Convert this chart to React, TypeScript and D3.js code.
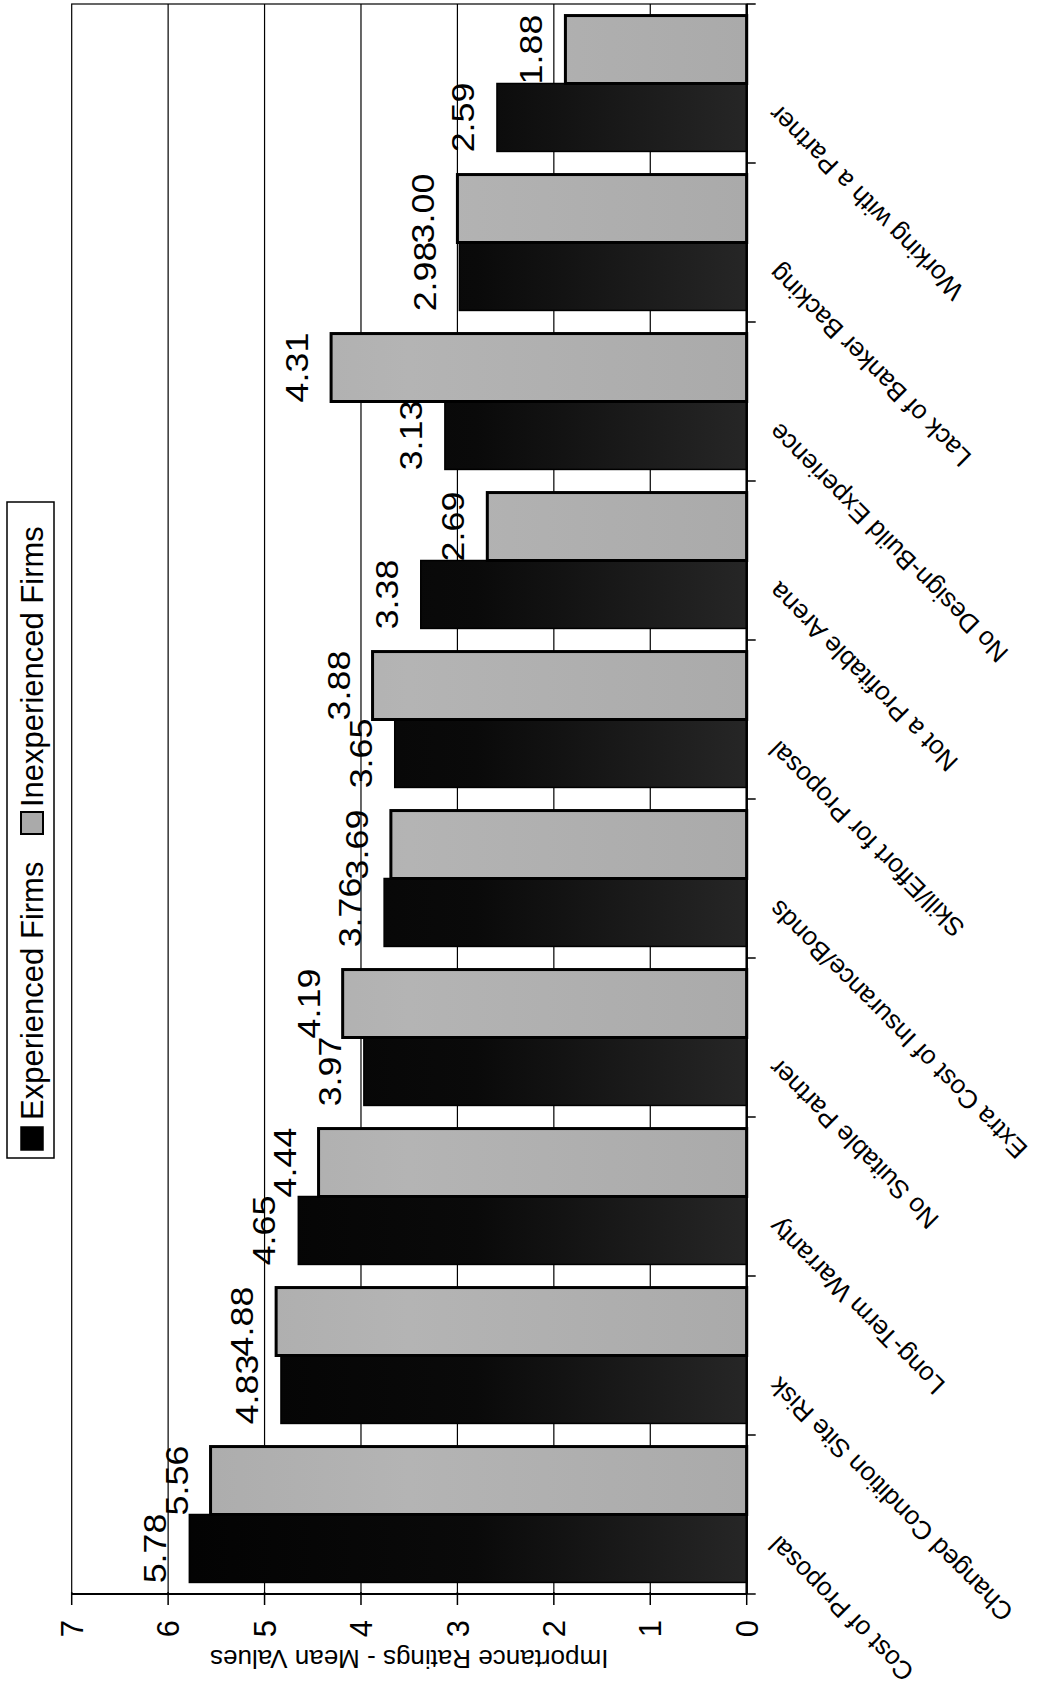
import * as d3 from 'd3';

const categories = [
  'Cost of Proposal',
  'Changed Condition Site Risk',
  'Long-Term Warranty',
  'No Suitable Partner',
  'Extra Cost of Insurance/Bonds',
  'Skill/Effort for Proposal',
  'Not a Profitable Arena',
  'No Design-Build Experience',
  'Lack of Banker Backing',
  'Working with a Partner',
];
const experienced = [5.78, 4.83, 4.65, 3.97, 3.76, 3.65, 3.38, 3.13, 2.98, 2.59];
const inexperienced = [5.56, 4.88, 4.44, 4.19, 3.69, 3.88, 2.69, 4.31, 3.0, 1.88];
const seriesNames = ['Experienced Firms', 'Inexperienced Firms'];
const valueTicks = [0, 1, 2, 3, 4, 5, 6, 7];

// the chart is laid out upright, then turned a quarter turn to the left
const PAGE_W = 1045;
const PAGE_H = 1690;

const plot = { left: 96, right: 1686, top: 71.7, bottom: 746.7 };
const font = '"Liberation Sans", Arial, sans-serif';

const App = () => {
  const x = d3.scaleBand(categories, [plot.left, plot.right]).padding(0);
  const inner = d3.scaleBand(seriesNames, [0, x.bandwidth()]).paddingInner(0).paddingOuter(0.17);
  const y = d3.scaleLinear([0, 7], [plot.bottom, plot.top]);

  const rows = categories.map((c, i) => ({ c, exp: experienced[i], inexp: inexperienced[i] }));
  const edges = d3.range(categories.length + 1).map((i) => plot.left + i * x.step());

  return (
    <svg
      width={PAGE_W}
      height={PAGE_H}
      style={{ position: 'absolute', left: 0, top: 0, display: 'block', background: '#fff' }}
      fontFamily={font}
    >
      <defs>
        <linearGradient id="darkFill" gradientUnits="userSpaceOnUse" x1="0" y1={plot.top} x2="0" y2={plot.bottom}>
          <stop offset="0%" stopColor="#000" />
          <stop offset="60%" stopColor="#0a0a0a" />
          <stop offset="100%" stopColor="#262626" />
        </linearGradient>
        <linearGradient id="lightFill" gradientUnits="userSpaceOnUse" x1="0" y1={plot.top} x2="0" y2={plot.bottom}>
          <stop offset="0%" stopColor="#a8a8a8" />
          <stop offset="50%" stopColor="#b4b4b4" />
          <stop offset="100%" stopColor="#aaaaaa" />
        </linearGradient>
      </defs>
      <rect width={PAGE_W} height={PAGE_H} fill="#fff" />
      <g transform={`translate(0,${PAGE_H}) rotate(-90)`}>
        {/* plot frame and gridlines */}
        <rect
          x={plot.left}
          y={plot.top}
          width={plot.right - plot.left}
          height={plot.bottom - plot.top}
          fill="none"
          stroke="#000"
          strokeWidth={1.2}
        />
        {valueTicks.slice(1, -1).map((v) => (
          <line key={v} x1={plot.left} x2={plot.right} y1={y(v)} y2={y(v)} stroke="#000" strokeWidth={1.2} />
        ))}

        {/* bars */}
        {rows.map((r) => {
          const x0 = x(r.c) ?? 0;
          const w = inner.bandwidth();
          const xe = x0 + (inner(seriesNames[0]) ?? 0);
          const xi = x0 + (inner(seriesNames[1]) ?? 0);
          return (
            <g key={r.c}>
              <rect x={xe} y={y(r.exp)} width={w} height={y(0) - y(r.exp)} fill="url(#darkFill)" stroke="#000" strokeWidth={1.5} />
              <rect x={xi} y={y(r.inexp)} width={w} height={y(0) - y(r.inexp)} fill="url(#lightFill)" stroke="#000" strokeWidth={3} />
            </g>
          );
        })}

        {/* data labels */}
        {rows.map((r) => {
          const x0 = x(r.c) ?? 0;
          const w = inner.bandwidth();
          const ce = x0 + (inner(seriesNames[0]) ?? 0) + w / 2;
          const ci = x0 + (inner(seriesNames[1]) ?? 0) + w / 2;
          return (
            <g key={r.c} fontSize={32} textAnchor="middle" fill="#000">
              <text transform={`translate(${ce},${y(r.exp) - 23}) scale(1.12,1)`}>{r.exp.toFixed(2)}</text>
              <text transform={`translate(${ci},${y(r.inexp) - 23}) scale(1.12,1)`}>{r.inexp.toFixed(2)}</text>
            </g>
          );
        })}

        {/* category axis */}
        <line x1={plot.left} x2={plot.right} y1={plot.bottom} y2={plot.bottom} stroke="#000" strokeWidth={2.5} />
        {edges.map((e, i) => (
          <line key={i} x1={e} x2={e} y1={plot.bottom} y2={plot.bottom + 9} stroke="#000" strokeWidth={1.5} />
        ))}
        {categories.map((c) => {
          const cx = (x(c) ?? 0) + x.bandwidth() / 2;
          return (
            <text
              key={c}
              transform={`translate(${cx - 20},${plot.bottom + 33}) rotate(-45)`}
              textAnchor="end"
              fontSize={26}
              fill="#000"
            >
              {c}
            </text>
          );
        })}

        {/* value axis */}
        <line x1={plot.left} x2={plot.left} y1={plot.top} y2={plot.bottom} stroke="#000" strokeWidth={2} />
        {valueTicks.map((v) => (
          <g key={v}>
            <line x1={plot.left - 11} x2={plot.left + 2} y1={y(v)} y2={y(v)} stroke="#000" strokeWidth={1.5} />
            <text x={plot.left - 26} y={y(v)} dy="0.36em" textAnchor="end" fontSize={31} fill="#000">
              {v}
            </text>
          </g>
        ))}
        <text
          transform={`translate(31,${(plot.top + plot.bottom) / 2}) rotate(-90)`}
          dy="0.35em"
          textAnchor="middle"
          fontSize={26}
          fill="#000"
        >
          Importance Ratings - Mean Values
        </text>

        {/* legend */}
        <rect x={532} y={7} width={656} height={47} fill="#fff" stroke="#000" strokeWidth={1.5} />
        <rect x={540} y={21} width={23} height={22} fill="url(#darkFill)" stroke="#000" strokeWidth={1.5} />
        <text x={570} y={43} fontSize={31} fill="#000">
          {seriesNames[0]}
        </text>
        <rect x={856} y={21} width={22} height={22} fill="#aaa" stroke="#000" strokeWidth={2} />
        <text x={883} y={43} fontSize={31} fill="#000">
          {seriesNames[1]}
        </text>
      </g>
    </svg>
  );
};

export default App;
